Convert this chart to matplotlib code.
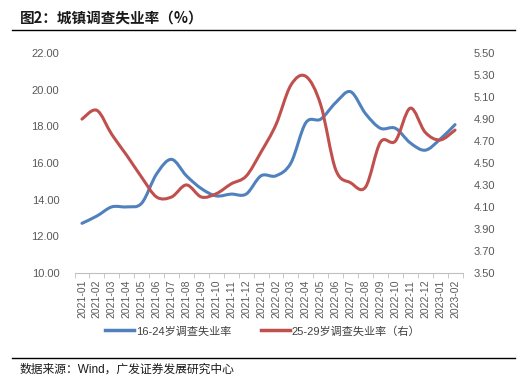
import matplotlib
matplotlib.use("Agg")
import matplotlib.pyplot as plt
from matplotlib.path import Path
from matplotlib.patches import PathPatch
from matplotlib.lines import Line2D
from matplotlib.ticker import FormatStrFormatter, FixedLocator

plt.rcParams['font.family'] = ['Liberation Sans', 'Noto Sans CJK SC']

months = ["2021-01", "2021-02", "2021-03", "2021-04", "2021-05", "2021-06",
          "2021-07", "2021-08", "2021-09", "2021-10", "2021-11", "2021-12",
          "2022-01", "2022-02", "2022-03", "2022-04", "2022-05", "2022-06",
          "2022-07", "2022-08", "2022-09", "2022-10", "2022-11", "2022-12",
          "2023-01", "2023-02"]
# 16-24岁 (left axis)
youth = [12.7, 13.1, 13.6, 13.6, 13.8, 15.4, 16.2, 15.3, 14.6, 14.2, 14.3, 14.3,
         15.3, 15.3, 16.0, 18.2, 18.4, 19.3, 19.9, 18.7, 17.9, 17.9, 17.1, 16.7,
         17.3, 18.1]
# 25-29岁 (right axis)
adult = [4.90, 4.98, 4.76, 4.57, 4.37, 4.19, 4.19, 4.30, 4.19, 4.22, 4.31, 4.38,
         4.60, 4.85, 5.21, 5.29, 5.03, 4.44, 4.32, 4.28, 4.69, 4.70, 5.00, 4.78,
         4.71, 4.80]

label_youth = "16-24岁调查失业率"
label_adult = "25-29岁调查失业率（右）"
title = "图2：城镇调查失业率（%）"
source = "数据来源：Wind，广发证券发展研究中心"

blue = "#4F81BD"
red = "#C0504D"
gray = "#595959"


def smooth_path(x, y):
    # excel-like smoothed line (bezier through every point)
    n = len(x)
    verts = [(x[0], y[0])]
    codes = [Path.MOVETO]
    for i in range(n - 1):
        xa, ya = (x[i - 1], y[i - 1]) if i > 0 else (x[i], y[i])
        xd, yd = (x[i + 2], y[i + 2]) if i + 2 < n else (x[i + 1], y[i + 1])
        c1 = (x[i] + (x[i + 1] - xa) / 6, y[i] + (y[i + 1] - ya) / 6)
        c2 = (x[i + 1] - (xd - x[i]) / 6, y[i + 1] - (yd - y[i]) / 6)
        verts += [c1, c2, (x[i + 1], y[i + 1])]
        codes += [Path.CURVE4] * 3
    return Path(verts, codes)


fig = plt.figure(figsize=(5.25, 3.87), dpi=100)
W, H = 525, 387
ax = fig.add_axes([74.5 / W, 1 - 272.7 / H, 388 / W, 219.4 / H])
ax2 = ax.twinx()

xs = list(range(len(months)))
ax.add_patch(PathPatch(smooth_path(xs, youth), fill=False, edgecolor=blue,
                       lw=2.2, capstyle='round', joinstyle='round'))
ax2.add_patch(PathPatch(smooth_path(xs, adult), fill=False, edgecolor=red,
                        lw=2.2, capstyle='round', joinstyle='round'))

ax.set_xlim(-0.5, len(months) - 0.5)
ax.set_ylim(10, 22)
ax2.set_ylim(3.5, 5.5)
ax.set_yticks([10, 12, 14, 16, 18, 20, 22])
ax2.set_yticks([3.5, 3.7, 3.9, 4.1, 4.3, 4.5, 4.7, 4.9, 5.1, 5.3, 5.5])
ax.yaxis.set_major_formatter(FormatStrFormatter('%.2f'))
ax2.yaxis.set_major_formatter(FormatStrFormatter('%.2f'))

ax.set_xticks(xs)
ax.set_xticklabels(months, rotation=90)
ax.xaxis.set_minor_locator(FixedLocator([i - 0.5 for i in range(len(months) + 1)]))

for a in (ax, ax2):
    for s in ("top", "left", "right"):
        a.spines[s].set_visible(False)
    a.spines["bottom"].set_color("#BFBFBF")
ax2.spines["bottom"].set_visible(False)

ax.tick_params(axis='x', which='major', length=0, pad=5, labelsize=7.5, labelcolor=gray)
ax.tick_params(axis='x', which='minor', length=3.5, color="#BFBFBF", direction='out')
ax.tick_params(axis='y', length=0, pad=11, labelsize=8, labelcolor=gray)
ax2.tick_params(axis='y', length=0, pad=8, labelsize=8, labelcolor=gray)

# title and rules
fig.text(20 / W, 1 - 18 / H, title, fontsize=10.5, fontweight='bold',
         family=['Noto Sans CJK SC'], va='center', ha='left', color="#1a1a1a")
fig.add_artist(Line2D([12 / W, 515 / W], [1 - 30 / H, 1 - 30 / H], color='black', lw=1))
fig.add_artist(Line2D([12 / W, 515 / W], [1 - 358 / H, 1 - 358 / H], color='black', lw=1))
fig.text(20 / W, 1 - 370 / H, source, fontsize=8.5, va='center', ha='left',
         color="#1a1a1a")

handles = [Line2D([], [], color=blue, lw=2.5), Line2D([], [], color=red, lw=2.5)]
fig.legend(handles, [label_youth, label_adult], loc='center',
           bbox_to_anchor=(263 / W, 1 - 331 / H), ncol=2, frameon=False,
           fontsize=8, handlelength=2.6, handletextpad=0.2, columnspacing=2.6,
           labelcolor="#404040")

fig.savefig("out.png", dpi=100)
